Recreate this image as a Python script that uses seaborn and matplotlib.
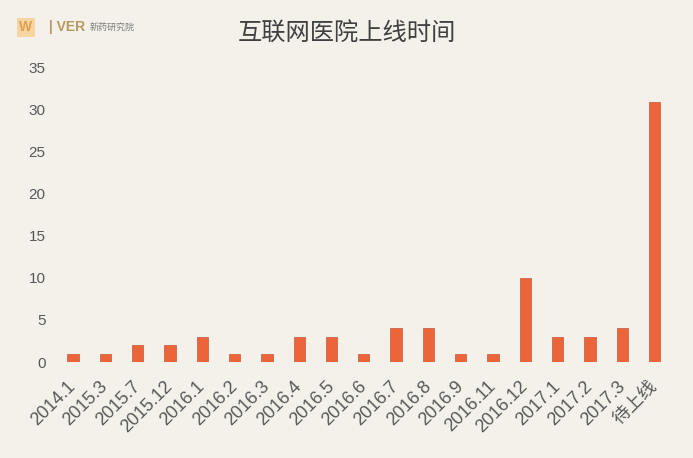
import matplotlib
matplotlib.use("Agg")
import matplotlib.pyplot as plt
import seaborn as sns
import pandas as pd

# data
months = ["2014.1", "2015.3", "2015.7", "2015.12", "2016.1", "2016.2", "2016.3",
          "2016.4", "2016.5", "2016.6", "2016.7", "2016.8", "2016.9", "2016.11",
          "2016.12", "2017.1", "2017.2", "2017.3", "待上线"]
counts = [1, 1, 2, 2, 3, 1, 1, 3, 3, 1, 4, 4, 1, 1, 10, 3, 3, 4, 31]
y_ticks = [0, 5, 10, 15, 20, 25, 30, 35]

bg = "#F3F1E9"
bar_color = "#EC6439"
text_color = "#595959"

sns.set_theme(style="white")
plt.rcParams["font.family"] = ["Liberation Sans", "Noto Sans CJK SC", "DejaVu Sans"]

df = pd.DataFrame({"month": months, "count": counts})

fig = plt.figure(figsize=(6.93, 4.58), dpi=100, facecolor=bg)
ax = fig.add_axes([0.082, 0.2096, 0.886, 0.642])
ax.set_facecolor(bg)

sns.barplot(data=df, x="month", y="count", color=bar_color, width=0.35,
            saturation=1, edgecolor="#C9553A", linewidth=0.5, ax=ax)

ax.axhline(0, color="#D9D9D9", linewidth=0.8, zorder=0)
ax.set_xlim(-0.5, len(months) - 0.5)
ax.set_ylim(0, 35)
ax.set_yticks(y_ticks)
ax.set_xlabel("")
ax.set_ylabel("")
for s in ax.spines.values():
    s.set_visible(False)

ax.tick_params(axis="both", length=0, colors=text_color, labelsize=11)
ax.tick_params(axis="y", pad=8)
ax.tick_params(axis="x", pad=16)
for lbl in ax.get_xticklabels():
    lbl.set_rotation(45)
    lbl.set_ha("right")
    lbl.set_va("center")
    lbl.set_rotation_mode("anchor")
    lbl.set_fontsize(13)

fig.text(0.5, 0.927, "互联网医院上线时间", ha="center", va="center",
         fontsize=17.5, color="#404040", family=["Noto Sans CJK SC", "DejaVu Sans"])

# small watermark logo in the top-left corner
fig.text(0.028, 0.94, "W", ha="left", va="center", fontsize=10, color="#E0A050",
         fontweight="bold", bbox=dict(boxstyle="square,pad=0.2", fc="#F6D6A0", ec="none"))
fig.text(0.07, 0.94, "| VER", ha="left", va="center", fontsize=10, color="#B89A60", fontweight="bold")
fig.text(0.13, 0.94, "新药研究院", ha="left", va="center", fontsize=6.5, color="#808080",
         family=["Noto Sans CJK SC", "DejaVu Sans"])

fig.savefig("out.png", dpi=100, facecolor=bg)
